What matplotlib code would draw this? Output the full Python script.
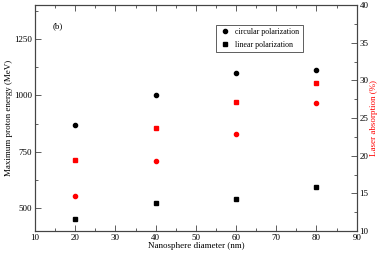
import matplotlib
matplotlib.use("Agg")
import matplotlib.pyplot as plt
from matplotlib.ticker import MultipleLocator

plt.rcParams['font.family'] = ['Liberation Serif', 'DejaVu Serif']
plt.rcParams['font.size'] = 6.5

# nanosphere diameter (nm)
diameter = [20, 40, 60, 80]
# max proton energy (MeV)
energy_circ = [868, 1000, 1101, 1113]
energy_lin = [454, 523, 542, 593]
# laser absorption (%)
absorb_circ = [14.6, 19.3, 22.9, 27.0]
absorb_lin = [19.4, 23.7, 27.1, 29.7]

fig = plt.figure(figsize=(3.82, 2.54), dpi=100)
ax = fig.add_axes([35/382, 1 - 231/254, (356.7-35)/382, (231-5)/254])
ax2 = ax.twinx()

ax.plot(diameter, energy_circ, 'o', color='black', ms=3, label='circular polarization')
ax.plot(diameter, energy_lin, 's', color='black', ms=2.6, label='linear polarization')
ax2.plot(diameter, absorb_circ, 'o', color='red', ms=3)
ax2.plot(diameter, absorb_lin, 's', color='red', ms=2.6)

ax.set_xlim(10, 90)
ax.set_ylim(400, 1400)
ax2.set_ylim(10, 40)

ax.xaxis.set_major_locator(MultipleLocator(10))
ax.xaxis.set_minor_locator(MultipleLocator(5))
ax.yaxis.set_major_locator(MultipleLocator(250))
ax.yaxis.set_minor_locator(MultipleLocator(125))
ax2.yaxis.set_major_locator(MultipleLocator(5))
ax2.yaxis.set_minor_locator(MultipleLocator(2.5))

ax.tick_params(which='both', direction='in', top=True, right=False, width=0.6, color='#444444', pad=2)
ax.tick_params(which='major', length=4)
ax.tick_params(which='minor', length=2)
ax2.tick_params(which='both', direction='in', width=0.6, color='#444444', pad=2)
ax2.tick_params(which='major', length=4)
ax2.tick_params(which='minor', length=2)

for a in (ax, ax2):
    for s in a.spines.values():
        s.set_linewidth(0.8)
        s.set_color('#444444')

ax.set_xlabel('Nanosphere diameter (nm)', labelpad=0)
ax.set_ylabel('Maximum proton energy (MeV)', labelpad=1)
ax2.set_ylabel('Laser absorption (%)', color='red', labelpad=1)

ax.text(15.7, 1307, '(b)', ha='center', va='center')

leg = ax.legend(loc='upper left', bbox_to_anchor=((211.7-35)/321.7, 1 - 15.7/226),
                fancybox=False, edgecolor='#444444', framealpha=1, fontsize=5.7,
                borderpad=0.45, handletextpad=0.5, labelspacing=0.55, handlelength=1.5)
leg.get_frame().set_linewidth(0.6)

fig.savefig('out.png', dpi=100)
